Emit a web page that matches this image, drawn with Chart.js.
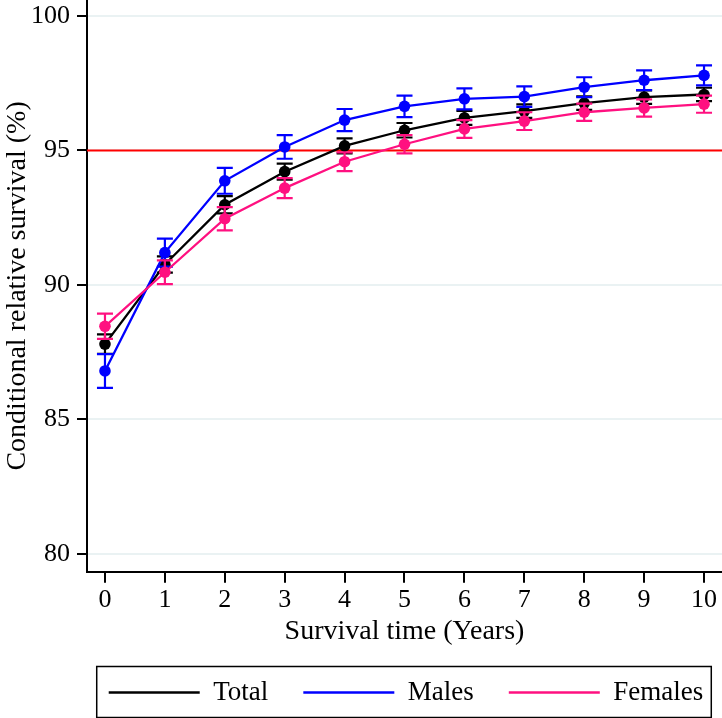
<!DOCTYPE html>
<html>
<head>
<meta charset="utf-8">
<script src="https://cdn.jsdelivr.net/npm/chart.js@4.4.1/dist/chart.umd.min.js"></script>
<style>
    html, body { margin: 0; padding: 0; background: #fff; }
</style>
</head>
<body>
<canvas id="survChart" width="722" height="718"></canvas>
<script>
// values
var years = [0, 1, 2, 3, 4, 5, 6, 7, 8, 9, 10];
var xTicks = [0, 1, 2, 3, 4, 5, 6, 7, 8, 9, 10];
var yTicks = [80, 85, 90, 95, 100];

var totalVals   = [87.80, 90.76, 92.98, 94.21, 95.17, 95.75, 96.21, 96.46, 96.76, 96.98, 97.08];
var malesVals   = [86.80, 91.20, 93.87, 95.13, 96.13, 96.64, 96.92, 97.00, 97.35, 97.61, 97.79];
var femalesVals = [88.46, 90.47, 92.46, 93.60, 94.58, 95.23, 95.80, 96.09, 96.42, 96.58, 96.72];

// half width of the confidence interval
var totalErr   = [0.36, 0.30, 0.32, 0.30, 0.28, 0.27, 0.26, 0.25, 0.25, 0.25, 0.25];
var malesErr   = [0.63, 0.52, 0.48, 0.44, 0.41, 0.40, 0.39, 0.38, 0.37, 0.37, 0.37];
var femalesErr = [0.47, 0.44, 0.43, 0.37, 0.35, 0.34, 0.33, 0.33, 0.32, 0.32, 0.32];

var refValue = 95;

var serif = "'Liberation Serif', 'Times New Roman', serif";
var errSets = [totalErr, malesErr, femalesErr];
var legendShiftX = 45;
var legendShiftY = -2;
var yAxisWidth = 87;

function toPoints(vals) {
    return years.map(function (x, i) { return { x: x, y: vals[i] }; });
}

// scales should not reserve room for half labels at the ends
function noEdgePadding(scale) {
    scale.paddingTop = 0;
    scale.paddingBottom = 0;
    scale.paddingLeft = 0;
    scale.paddingRight = 0;
}

// red line at 95
var refLinePlugin = {
    id: 'refLine',
    beforeDatasetsDraw: function (chart) {
        var ctx = chart.ctx, area = chart.chartArea;
        var y = chart.scales.y.getPixelForValue(refValue);
        ctx.save();
        ctx.strokeStyle = '#ff0000';
        ctx.lineWidth = 2;
        ctx.beginPath();
        ctx.moveTo(area.left, y);
        ctx.lineTo(area.right, y);
        ctx.stroke();
        ctx.restore();
    }
};

// capped error bars, drawn under each series
var errorBarPlugin = {
    id: 'errorBars',
    beforeDatasetDraw: function (chart, args) {
        var ds = chart.data.datasets[args.index];
        var errs = errSets[args.index];
        var xs = chart.scales.x, ys = chart.scales.y;
        var ctx = chart.ctx;
        ctx.save();
        ctx.strokeStyle = ds.borderColor;
        ctx.lineWidth = 2.2;
        ds.data.forEach(function (p, i) {
            var px = xs.getPixelForValue(p.x);
            var lo = ys.getPixelForValue(p.y - errs[i]);
            var hi = ys.getPixelForValue(p.y + errs[i]);
            ctx.beginPath();
            ctx.moveTo(px, lo); ctx.lineTo(px, hi);
            ctx.moveTo(px - 8, lo); ctx.lineTo(px + 8, lo);
            ctx.moveTo(px - 8, hi); ctx.lineTo(px + 8, hi);
            ctx.stroke();
        });
        ctx.restore();
    }
};

// move the legend under the plot area and put a frame round it
var legendFramePlugin = {
    id: 'legendFrame',
    afterLayout: function (chart) {
        chart.legend.left += legendShiftX;
        chart.legend.right += legendShiftX;
        chart.legend.top += legendShiftY;
        chart.legend.bottom += legendShiftY;
    },
    afterDraw: function (chart) {
        var boxes = chart.legend.legendHitBoxes;
        if (!boxes || !boxes.length) return;
        var first = boxes[0], last = boxes[boxes.length - 1];
        var midY = first.top + first.height / 2;
        var left = first.left - 12;
        var right = last.left + last.width + 8;
        var ctx = chart.ctx;
        ctx.save();
        ctx.strokeStyle = '#000';
        ctx.lineWidth = 1.5;
        ctx.strokeRect(left, midY - 26, right - left, 51);
        ctx.restore();
    }
};

var ctx = document.getElementById('survChart').getContext('2d');
new Chart(ctx, {
    type: 'line',
    data: {
        datasets: [
            {
                label: 'Total',
                data: toPoints(totalVals),
                borderColor: '#000000',
                backgroundColor: '#000000',
                borderWidth: 2.3,
                pointRadius: 5.8,
                pointBorderWidth: 0,
                order: 3
            },
            {
                label: 'Males',
                data: toPoints(malesVals),
                borderColor: '#0000ff',
                backgroundColor: '#0000ff',
                borderWidth: 2.3,
                pointRadius: 5.8,
                pointBorderWidth: 0,
                order: 2
            },
            {
                label: 'Females',
                data: toPoints(femalesVals),
                borderColor: '#ff1080',
                backgroundColor: '#ff1080',
                borderWidth: 2.3,
                pointRadius: 5.8,
                pointBorderWidth: 0,
                order: 1
            }
        ]
    },
    options: {
        responsive: false,
        animation: false,
        devicePixelRatio: 1,
        layout: {
            autoPadding: false,
            padding: { left: 0, right: 0, top: 0, bottom: 0 }
        },
        plugins: {
            tooltip: { enabled: false },
            legend: {
                position: 'bottom',
                labels: {
                    usePointStyle: true,
                    pointStyle: 'line',
                    pointStyleWidth: 91,
                    padding: 35,
                    color: '#000',
                    font: { family: serif, size: 27 },
                    sort: function (a, b) { return a.datasetIndex - b.datasetIndex; },
                    generateLabels: function (chart) {
                        var items = Chart.defaults.plugins.legend.labels.generateLabels(chart);
                        items.forEach(function (it) {
                            var ds = chart.data.datasets[it.datasetIndex];
                            it.lineWidth = 2.5;
                            it.strokeStyle = ds.borderColor;
                        });
                        return items;
                    }
                }
            }
        },
        scales: {
            x: {
                type: 'linear',
                min: -0.3,
                max: 10.3,
                afterBuildTicks: function (scale) {
                    scale.ticks = xTicks.map(function (v) { return { value: v }; });
                },
                afterFit: noEdgePadding,
                ticks: {
                    color: '#000',
                    padding: 2,
                    font: { family: serif, size: 26 }
                },
                grid: {
                    drawOnChartArea: false,
                    color: '#000',
                    tickLength: 11,
                    lineWidth: 2
                },
                border: { color: '#000', width: 2 },
                title: {
                    display: true,
                    text: 'Survival time (Years)',
                    color: '#000',
                    padding: 0,
                    font: { family: serif, size: 28, lineHeight: 1.0 }
                }
            },
            y: {
                min: 79.333,
                max: 100.593,
                afterBuildTicks: function (scale) {
                    scale.ticks = yTicks.map(function (v) { return { value: v }; });
                },
                afterFit: function (scale) {
                    noEdgePadding(scale);
                    scale.width = yAxisWidth;
                },
                ticks: {
                    color: '#000',
                    padding: 7,
                    font: { family: serif, size: 26 }
                },
                grid: {
                    color: '#eaf2f3',
                    lineWidth: 2,
                    tickColor: '#000',
                    tickLength: 10,
                    tickWidth: 2
                },
                border: { color: '#000', width: 2 },
                title: {
                    display: true,
                    text: 'Conditional relative survival (%)',
                    color: '#000',
                    padding: { top: 2, bottom: 0 },
                    font: { family: serif, size: 28, lineHeight: 1.1 }
                }
            }
        }
    },
    plugins: [refLinePlugin, errorBarPlugin, legendFramePlugin]
});
</script>
</body>
</html>
